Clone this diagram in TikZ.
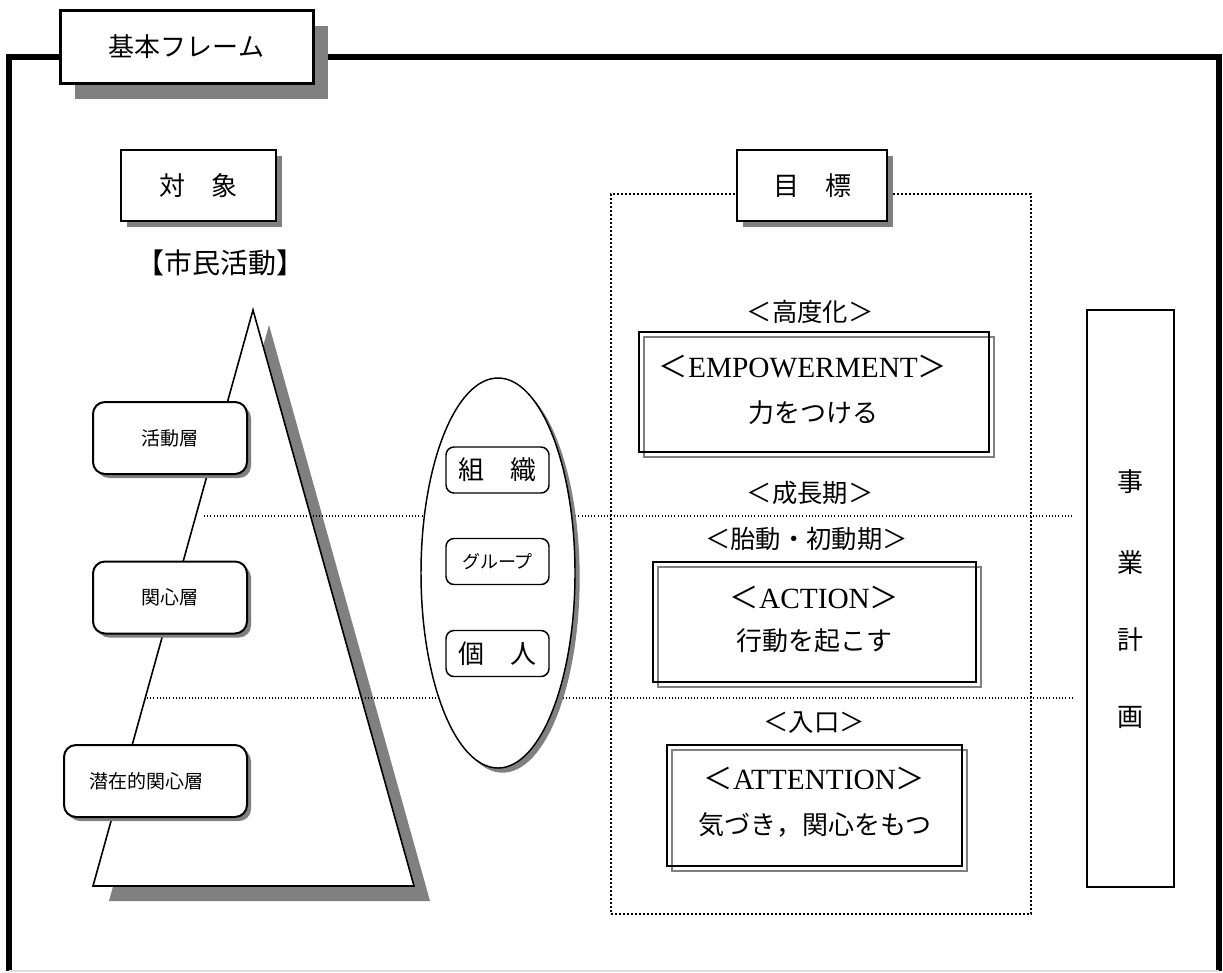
\documentclass[tikz,border=0pt]{standalone}
\usepackage{fontspec}
\setmainfont{Liberation Serif}
\newfontfamily\jp{Noto Sans CJK JP}
\usetikzlibrary{shapes.geometric,shadows}
\definecolor{shadowgray}{HTML}{808080}
\definecolor{lightline}{HTML}{DDDDDD}
\begin{document}
\begin{tikzpicture}[x=0.75pt,y=-0.75pt,
  txt/.style={inner sep=0pt, font=\jp\fontsize{19.5pt}{23pt}\selectfont},
  phase/.style={inner sep=0pt, font=\jp\fontsize{19pt}{23pt}\selectfont},
  small/.style={inner sep=0pt, font=\jp\fontsize{14.25pt}{17pt}\selectfont},
  latin/.style={inner sep=0pt, font=\fontsize{22pt}{26pt}\selectfont},
  titlebox/.style={draw, line width=2.25pt, fill=white, inner sep=0pt,
    minimum width=189.75pt, minimum height=54.75pt,
    drop shadow={shadow xshift=11.25pt, shadow yshift=-12pt, fill=shadowgray, opacity=1}},
  headbox/.style={draw, line width=1.9pt, fill=white, inner sep=0pt, minimum height=53.25pt,
    drop shadow={shadow xshift=4.5pt, shadow yshift=-4.5pt, fill=shadowgray, opacity=1}},
  layerbox/.style={draw, line width=1.5pt, fill=white, rounded corners=9pt, inner sep=0pt,
    minimum height=54pt,
    drop shadow={shadow xshift=3pt, shadow yshift=-3pt, fill=shadowgray, opacity=1}},
  groupbox/.style={draw, line width=1.1pt, fill=white, rounded corners=6pt, inner sep=0pt,
    minimum width=77.25pt, minimum height=34.5pt},
  goalblack/.style={draw, line width=1.5pt, inner sep=0pt, minimum height=90pt},
  goalgray/.style={draw=shadowgray, line width=1.3pt, inner sep=0pt, minimum height=90pt},
  sepline/.style={line width=0.8pt, dash pattern=on 0.8pt off 1.6pt},
  areabox/.style={draw, line width=1.4pt, dash pattern=on 1.4pt off 1.6pt, inner sep=0pt,
    minimum width=315pt, minimum height=540pt},
]
\useasboundingbox (0,0) rectangle (1223,972);

% outer frame
\coordinate (fbl) at (9,971);
\coordinate (ftl) at (9,57);
\coordinate (ftr) at (1218.5,57);
\coordinate (fbr) at (1218.5,971);
\draw[line width=4.5pt] (fbl) -- (ftl) -- (ftr) -- (fbr);
\draw[lightline, line width=1pt] (fbl) -- (fbr);

% title
\node[titlebox, txt] (title) at (186.5,46.5) {基本フレーム};

% heads
\node[headbox, txt, minimum width=116.25pt] (taisho) at (198.5,185.5) {対　象};
\node[txt, font=\jp\fontsize{21pt}{25pt}\selectfont] (shimin) at (220,263) {【市民活動】};

% pyramid
\coordinate (apex) at (253,310);
\coordinate (bl) at (93,886);
\coordinate (br) at (414,886);
\fill[shadowgray] ([shift={(16,15)}]apex) -- ([shift={(16,15)}]bl) -- ([shift={(16,15)}]br) -- cycle;
\draw[line width=1.2pt, fill=white, line join=miter] (apex) -- (bl) -- (br) -- cycle;

% goal area
\node[areabox] (goalarea) at (821,554) {};
\node[headbox, txt, minimum width=112.5pt] (mokuhyo) at (812,185.5) {目　標};

% separator lines
\coordinate (s1a) at (204,516);
\coordinate (s1b) at (1073,516);
\coordinate (s2a) at (147,698);
\coordinate (s2b) at (1073,698);
\draw[sepline] (s1a) -- (s1b);
\draw[sepline] (s2a) -- (s2b);

% layers
\node[layerbox, small, minimum width=115.5pt] (katsudo) at (170,438) {活動層};
\node[layerbox, small, minimum width=115.5pt] (kanshin) at (170,597.5) {関心層};
\node[layerbox, minimum width=137.25pt] (senzai) at (155.5,781) {};
\node[small] (senzaitxt) at (146.5,781) {潜在的関心層};

% ellipse with groups
\node[ellipse, draw, line width=1.1pt, fill=white, inner sep=0pt,
  minimum width=115.5pt, minimum height=292.5pt,
  drop shadow={shadow xshift=3.5pt, shadow yshift=-3.5pt, fill=shadowgray, opacity=1}] (oval) at (498,573) {};
\node[groupbox, txt] (soshiki) at (497.5,470) {組　織};
\node[groupbox, font=\jp\fontsize{13.5pt}{16pt}\selectfont] (group) at (497.5,561.5) {グループ};
\node[groupbox, txt] (kojin) at (497.5,653.5) {個　人};

% goal boxes
\node[phase] (kodoka) at (810,312) {＜高度化＞};
\node[goalgray, minimum width=262.5pt] (empg) at (819,397) {};
\node[goalblack, minimum width=262.5pt] (empb) at (814,392) {};
\node[latin] (emp1) at (803,367) {{\jp ＜}EMPOWERMENT{\jp ＞}};
\node[txt] (emp2) at (813.5,413) {力をつける};

\node[phase] (seicho) at (810,493) {＜成長期＞};
\node[phase] (taido) at (806.5,539) {＜胎動・初動期＞};
\node[goalgray, minimum width=242.25pt] (actg) at (819.5,627) {};
\node[goalblack, minimum width=242.25pt] (actb) at (814.5,622) {};
\node[latin] (act1) at (814.5,597) {{\jp ＜}ACTION{\jp ＞}};
\node[txt] (act2) at (814.5,641) {行動を起こす};

\node[phase] (iriguchi) at (814,723) {＜入口＞};
\node[goalgray, minimum width=221.25pt, minimum height=90.75pt] (attg) at (819.5,810.5) {};
\node[goalblack, minimum width=221.25pt, minimum height=90.75pt] (attb) at (814.5,805.5) {};
\node[latin] (att1) at (814.5,778) {{\jp ＜}ATTENTION{\jp ＞}};
\node[txt] (att2) at (815,825) {気づき，関心をもつ};

% business plan
\node[draw, line width=1.2pt, fill=white, inner sep=0pt, minimum width=65.25pt, minimum height=432.75pt,
  drop shadow={shadow xshift=1pt, shadow yshift=-1pt, fill=black, opacity=1}] (jigyo) at (1130.5,598.5) {};
\node[txt] (j1) at (1130,482) {事};
\node[txt] (j2) at (1130,563) {業};
\node[txt] (j3) at (1130,640) {計};
\node[txt] (j4) at (1130,717) {画};
\end{tikzpicture}
\end{document}
